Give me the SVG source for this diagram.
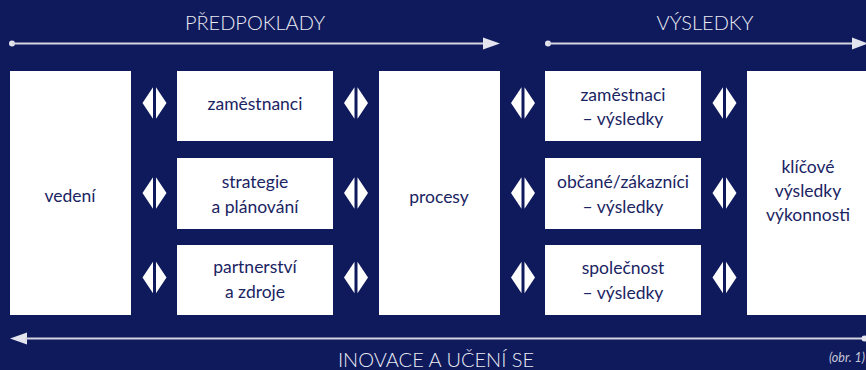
<svg xmlns="http://www.w3.org/2000/svg" width="866" height="370" viewBox="0 0 866 370">
<defs>
<style>
.bg{fill:#0f1a5c}
.box{fill:#ffffff}
.t{font-family:Lato,"Open Sans","Liberation Sans",sans-serif;font-size:17.5px;fill:#1a2463;text-anchor:middle}
.h{font-family:Lato,"Open Sans","Liberation Sans",sans-serif;font-size:20px;font-weight:300;fill:#ececf4;text-anchor:middle}
.ln{stroke:#d4d4e0;stroke-width:2;fill:none}
.hd{fill:#e4e4ee}
.d{fill:#ffffff}
</style>
<g id="dia">
<polygon class="d" points="-12,0 -1.5,-15.8 -1.5,15.8"/>
<polygon class="d" points="1.5,-15.8 12,0 1.5,15.8"/>
</g>
</defs>
<rect class="bg" x="0" y="0" width="866" height="370"/>

<text class="h" x="255" y="30">PŘEDPOKLADY</text>
<text class="h" x="705" y="30">VÝSLEDKY</text>
<text class="h" x="436" y="366.5">INOVACE A UČENÍ SE</text>
<text x="865" y="362" style="font-family:Lato,'Liberation Sans',sans-serif;font-size:12.5px;font-style:italic;fill:#c8c8d8;text-anchor:end">(obr. 1)</text>

<g id="connectors">
<circle class="hd" cx="12" cy="43.5" r="3"/>
<line class="ln" x1="12" y1="43.5" x2="485" y2="43.5"/>
<polygon class="hd" points="483,37.5 500,43.5 483,49.5"/>
<circle class="hd" cx="548" cy="43.5" r="3"/>
<line class="ln" x1="548" y1="43.5" x2="854" y2="43.5"/>
<polygon class="hd" points="852,37.5 868,43.5 852,49.5"/>
<polygon class="hd" points="10,338.5 27,332.5 27,344.5"/>
<line class="ln" x1="25" y1="338.5" x2="864" y2="338.5"/>
<circle class="hd" cx="864.5" cy="338.5" r="3"/>
<use href="#dia" x="154.5" y="103"/>
<use href="#dia" x="154.5" y="193"/>
<use href="#dia" x="154.5" y="277.5"/>
<use href="#dia" x="356" y="103"/>
<use href="#dia" x="356" y="193"/>
<use href="#dia" x="356" y="277.5"/>
<use href="#dia" x="523" y="103"/>
<use href="#dia" x="523" y="193"/>
<use href="#dia" x="523" y="277.5"/>
<use href="#dia" x="724.5" y="103"/>
<use href="#dia" x="724.5" y="193"/>
<use href="#dia" x="724.5" y="277.5"/>
</g>

<g id="vedeni">
<rect class="box" x="10" y="71" width="121" height="244"/>
<text class="t" x="70" y="202">vedení</text>
</g>
<g id="zamestnanci">
<rect class="box" x="177" y="71" width="156" height="70"/>
<text class="t" x="255" y="110">zaměstnanci</text>
</g>
<g id="strategie">
<rect class="box" x="177" y="158" width="156" height="71"/>
<text class="t" x="255" y="188">strategie</text>
<text class="t" x="255" y="213">a plánování</text>
</g>
<g id="partnerstvi">
<rect class="box" x="177" y="245" width="156" height="70"/>
<text class="t" x="255" y="272.5">partnerství</text>
<text class="t" x="255" y="297.5">a zdroje</text>
</g>
<g id="procesy">
<rect class="box" x="379" y="71" width="121" height="244"/>
<text class="t" x="439" y="203">procesy</text>
</g>
<g id="zamestnanci-vysledky">
<rect class="box" x="545" y="71" width="156" height="70"/>
<text class="t" x="623" y="100.5">zaměstnaci</text>
<text class="t" x="623" y="125">– výsledky</text>
</g>
<g id="obcane-vysledky">
<rect class="box" x="545" y="158" width="156" height="71"/>
<text class="t" x="623" y="188">občané/zákazníci</text>
<text class="t" x="623" y="213">– výsledky</text>
</g>
<g id="spolecnost-vysledky">
<rect class="box" x="545" y="245" width="156" height="70"/>
<text class="t" x="623" y="273.5">společnost</text>
<text class="t" x="623" y="298.5">– výsledky</text>
</g>
<g id="klicove">
<rect class="box" x="747" y="71" width="125" height="244"/>
<text class="t" x="808" y="173">klíčové</text>
<text class="t" x="808" y="197">výsledky</text>
<text class="t" x="808" y="221">výkonnosti</text>
</g>
</svg>
